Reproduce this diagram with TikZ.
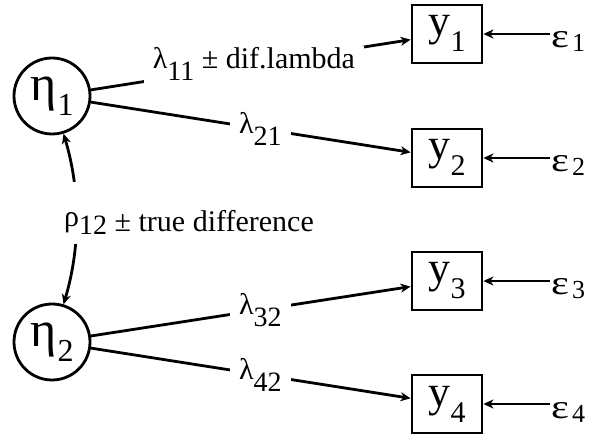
\documentclass[tikz,border=0pt]{standalone}
\usepackage{fontspec}
\setmainfont{Liberation Serif}
\usetikzlibrary{arrows.meta}
\newcommand{\fs}[1]{\fontsize{#1}{#1}\selectfont}
\newcommand{\lowsub}[3]{\raisebox{-#2pt}{\fs{#1}#3}}
\newcommand{\wideeps}{\scalebox{1.25}[1]{ε}}
\newcommand{\ylab}[1]{\raisebox{-2pt}[0pt][0pt]{\fs{44}y\lowsub{30}{16}{#1}}}
\begin{document}
\begin{tikzpicture}[x=1pt,y=-1pt,
  lat/.style={draw, circle, line width=2.8pt, minimum size=76pt, inner sep=0pt},
  obs/.style={draw, rectangle, line width=2.8pt, minimum width=70pt, minimum height=58pt, inner sep=0pt},
  path/.style={line width=2.8pt, -{Stealth[length=10pt,width=9pt,inset=3pt]}},
  lbl/.style={fill=white, inner xsep=9pt, inner ysep=2pt, font=\fs{30}},
  err/.style={anchor=base west, inner sep=1pt, font=\fs{34}},
]
\useasboundingbox (0,0) rectangle (589,435);
\node[lat] (eta1) at (52,96) {\fs{50}η\kern1pt\lowsub{32}{15}{1}};
\node[lat] (eta2) at (52,342) {\fs{50}η\kern1pt\lowsub{32}{15}{2}};
\node[obs] (y1) at (447,34) {\ylab{1}};
\node[obs] (y2) at (447,158) {\ylab{2}};
\node[obs] (y3) at (447,281) {\ylab{3}};
\node[obs] (y4) at (447,404) {\ylab{4}};
\node[err] (e1) at (550,48) {\wideeps\kern3pt\lowsub{26}{4}{1}};
\node[err] (e2) at (550,172) {\wideeps\kern3pt\lowsub{26}{4}{2}};
\node[err] (e3) at (550,295) {\wideeps\kern3pt\lowsub{26}{4}{3}};
\node[err] (e4) at (550,418) {\wideeps\kern3pt\lowsub{26}{4}{4}};
\draw[path] (e1.west |- y1) -- (y1);
\draw[path] (e2.west |- y2) -- (y2);
\draw[path] (e3.west |- y3) -- (y3);
\draw[path] (e4.west |- y4) -- (y4);
\draw[path] (eta1) -- node[lbl, pos=0.51] {λ\lowsub{28}{12}{11} ± dif.lambda} (y1);
\draw[path] (eta1) -- node[lbl, pos=0.53] {λ\lowsub{28}{12}{21}} (y2);
\draw[path] (eta2) -- node[lbl, pos=0.53] {λ\lowsub{28}{12}{32}} (y3);
\draw[path] (eta2) -- node[lbl, pos=0.53] {λ\lowsub{28}{12}{42}} (y4);
\draw[line width=2.8pt, {Stealth[length=10pt,width=9pt,inset=3pt]}-{Stealth[length=10pt,width=9pt,inset=3pt]}]
  (eta1.-73) .. controls +(17,57) and +(17,-57) .. (eta2.73);
\node[fill=white, anchor=base, inner xsep=4pt, inner ysep=0pt, text height=50pt, text depth=12pt, font=\fs{30}] (rho) at (189,232) {\raisebox{5pt}{ρ}\lowsub{28}{3}{12} ± true difference};
\end{tikzpicture}
\end{document}
